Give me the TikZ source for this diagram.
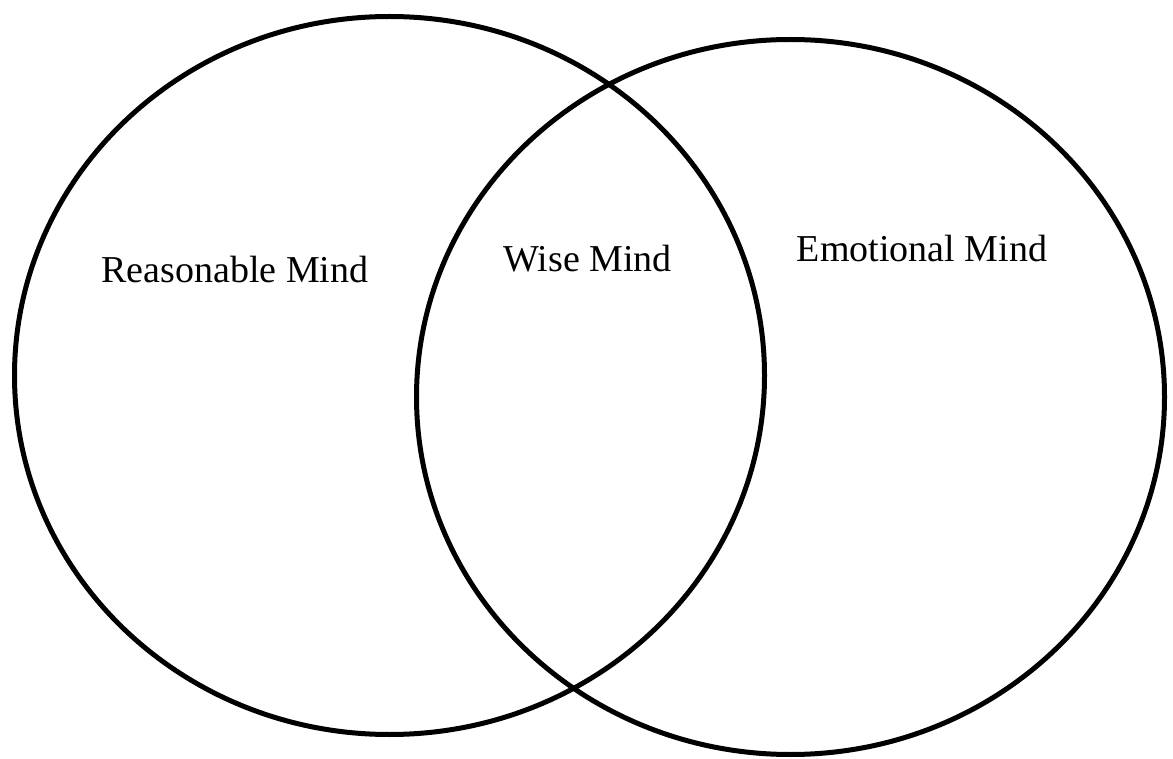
\documentclass[tikz,border=0pt]{standalone}
\usepackage{fontspec}
\setmainfont{Liberation Serif}
\tikzset{
  ring/.style={draw=black, line width=5pt},
  lbl/.style={font=\fontsize{38}{40}\selectfont, anchor=base, inner sep=0pt}
}
\begin{document}
\begin{tikzpicture}[x=1pt,y=-1pt]
\useasboundingbox (0,0) rectangle (1173,759);
\draw[ring] (389.5,375.5) ellipse [x radius=375, y radius=359];
\draw[ring] (790.5,397) ellipse [x radius=374, y radius=357.5];
\node[lbl] (rm) at (235,283) {Reasonable Mind};
\node[lbl] (wm) at (587.5,272) {Wise Mind};
\node[lbl] (em) at (922,262) {Emotional Mind};
\end{tikzpicture}
\end{document}
